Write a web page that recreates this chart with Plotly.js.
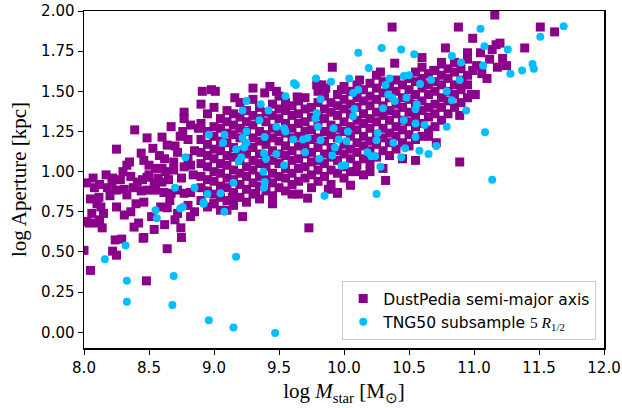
<!DOCTYPE html>
<html>
<head>
<meta charset="utf-8">
<script src="https://cdn.plot.ly/plotly-3.0.1.min.js"></script>
<style>html,body{margin:0;padding:0;background:#fff}#chart{width:622px;height:408px}</style>
</head>
<body>
<div id="chart"></div>
<script>
// ---- DustPedia semi-major axis: low-mass scattered points [logM, logA] ----
var dpLow = [
[8.00,0.51],[8.05,0.385],[8.04,0.68],[8.02,0.69],[8.06,0.74],[8.10,0.68],[8.14,0.65],[8.10,0.80],[8.115,0.84],[8.08,0.90],
[8.02,0.93],[8.13,0.78],[8.15,0.74],[8.18,0.90],[8.20,0.85],[8.215,0.935],[8.17,0.98],[8.25,0.885],[8.25,0.78],[8.22,0.505],
[8.25,0.48],[8.29,0.58],[8.31,0.73],[8.31,0.89],[8.33,0.855],[8.25,1.14],[8.33,1.04],[8.35,1.06],[8.39,1.26],[8.41,0.935],
[8.385,0.655],[8.42,0.68],[8.44,1.115],[8.45,0.95],[8.46,1.07],[8.46,0.81],[8.46,0.59],[8.48,0.32],[8.485,1.21],[8.485,0.965],
[8.485,0.885],[8.50,1.04],[8.53,1.145],[8.54,0.93],[8.55,1.02],[8.55,0.885],[8.59,0.78],[8.60,1.215],[8.60,1.02],[8.60,0.935],
[8.615,0.87],[8.64,1.165],[8.64,0.775],[8.64,0.52],[8.65,0.95],[8.67,1.28],[8.67,0.865],[8.69,1.06],[8.69,1.01],[8.72,1.12],
[8.72,0.885],[8.72,0.74],[8.745,0.65],[8.75,0.59],[8.76,1.25],[8.77,1.37],[8.77,1.33],[8.77,1.03],[8.77,0.865],[8.82,1.29],
[8.82,1.04],[8.82,0.87],[8.82,0.72],[8.85,1.13],[8.85,0.75],[8.88,1.27],[8.90,1.42],[8.91,1.50],[8.98,1.51],[8.24,0.575],
[8.455,0.585],[8.12,0.70],[8.05,0.83],[8.28,0.95],[8.36,0.97],[8.40,0.80],[8.52,0.72],[8.58,1.10],[8.70,1.16],[8.80,1.20],
[8.84,0.98],[8.62,1.08],[8.74,1.22],[8.80,0.79],[8.44,0.88],[8.36,0.75],[8.54,0.64],[8.62,0.67],[8.70,0.70],[8.66,0.82],
[8.07,0.96],[8.12,0.92],[8.22,0.96],[8.30,1.00],[8.38,0.90],[8.50,0.98],[8.57,0.96],[8.63,1.00],[8.75,0.96],[8.80,1.08]
];
// ---- DustPedia: dense core, listed per mass column ----
var dpCoreX = [8.90,8.95,9.00,9.05,9.10,9.15,9.20,9.25,9.30,9.35,9.40,9.45,9.50,9.55,9.60,9.65,9.70,9.75,9.80,9.85,
               9.90,9.95,10.00,10.05,10.10,10.15,10.20,10.25,10.30,10.35,10.40,10.45,10.50,10.55,10.60,10.65,10.70,10.75,10.80,10.85,10.90,10.95];
var dpCoreY = [
[0.82,0.90,0.97,1.05,1.12,1.20,1.30],
[0.78,0.88,0.95,1.03,1.10,1.17,1.25,1.36],
[0.80,0.86,0.94,1.00,1.08,1.14,1.22,1.28,1.40],
[0.76,0.84,0.91,0.99,1.05,1.13,1.19,1.27,1.33],
[0.82,0.90,0.96,1.04,1.10,1.18,1.24,1.31,1.38],
[0.79,0.87,0.95,1.01,1.09,1.15,1.23,1.29,1.36],
[0.84,0.92,0.99,1.07,1.13,1.21,1.27,1.34,1.43],
[0.81,0.89,0.97,1.03,1.11,1.17,1.25,1.31,1.38],
[0.86,0.93,1.01,1.07,1.15,1.21,1.29,1.35,1.45],
[0.83,0.91,0.97,1.05,1.11,1.19,1.25,1.33,1.40],
[0.88,0.95,1.03,1.09,1.17,1.23,1.31,1.37],
[0.85,0.93,0.99,1.07,1.13,1.21,1.27,1.35,1.42],
[0.90,0.97,1.05,1.11,1.19,1.25,1.33,1.39,1.47],
[0.88,0.96,1.02,1.10,1.16,1.24,1.30,1.38,1.43],
[0.92,0.99,1.07,1.13,1.21,1.27,1.35,1.41],
[0.86,0.94,1.02,1.08,1.16,1.22,1.30,1.36,1.44],
[0.96,1.03,1.11,1.17,1.25,1.31,1.39,1.46],
[0.90,0.98,1.06,1.12,1.20,1.26,1.34,1.40],
[0.94,1.01,1.07,1.15,1.21,1.29,1.35,1.43,1.50],
[0.97,1.05,1.11,1.19,1.25,1.33,1.39,1.47],
[0.92,1.01,1.09,1.15,1.23,1.29,1.37,1.43],
[0.99,1.07,1.13,1.21,1.27,1.35,1.41,1.48],
[0.96,1.03,1.11,1.17,1.25,1.31,1.39,1.45,1.53],
[1.00,1.08,1.14,1.22,1.28,1.36,1.42,1.50],
[1.04,1.12,1.18,1.26,1.32,1.40,1.46,1.54],
[0.98,1.08,1.16,1.22,1.30,1.36,1.44,1.51],
[1.05,1.13,1.19,1.27,1.33,1.41,1.47,1.55],
[1.09,1.17,1.23,1.31,1.37,1.45,1.52],
[1.02,1.13,1.21,1.27,1.35,1.41,1.49,1.56],
[1.10,1.18,1.24,1.32,1.38,1.46,1.53],
[1.14,1.22,1.28,1.36,1.42,1.50,1.57],
[1.08,1.18,1.26,1.32,1.40,1.46,1.54],
[1.16,1.23,1.31,1.37,1.45,1.51,1.58],
[1.20,1.28,1.34,1.42,1.48,1.56,1.62],
[1.22,1.30,1.38,1.44,1.52,1.58,1.65],
[1.26,1.34,1.40,1.48,1.54,1.61],
[1.28,1.36,1.42,1.50,1.56,1.63],
[1.32,1.40,1.46,1.54,1.60,1.67],
[1.36,1.44,1.50,1.58,1.64],
[1.40,1.48,1.54,1.62,1.68],
[1.43,1.51,1.57,1.64],
[1.46,1.54,1.60,1.70]
];
// ---- DustPedia: outliers above / below the core and high-mass end ----
var dpEdge = [
[9.01,1.50],[9.16,1.46],[9.30,1.52],[9.39,1.49],[9.43,1.53],[9.48,1.50],[9.64,1.465],[9.79,1.54],[9.91,1.65],[9.83,1.54],
[9.86,1.52],[9.98,1.51],[10.12,1.57],[10.25,1.60],[10.28,1.62],[10.37,1.90],[10.39,1.675],[10.60,1.71],[10.69,1.63],[10.75,1.68],
[10.78,1.77],[10.88,1.90],[10.95,1.74],[10.99,1.83],[11.16,1.975],[11.51,1.90],[11.62,1.87],[11.39,1.77],[11.05,1.74],[11.14,1.76],
[11.17,1.79],[11.20,1.80],[11.22,1.705],[11.12,1.70],[11.18,1.65],[11.25,1.66],[11.02,1.66],[11.06,1.61],[11.10,1.58],[10.99,1.63],
[10.91,1.55],[10.98,1.48],[11.01,1.48],[10.89,1.35],[10.89,1.06],[10.55,1.07],[10.32,0.945],[10.05,0.915],[9.95,0.87],[9.88,0.89],
[9.72,0.835],[9.95,0.865],[9.00,0.80],[9.22,0.72],[9.32,0.865],[9.14,0.84],[10.09,1.00],[10.20,1.00],[10.71,1.18],[10.65,1.22],
[9.73,0.65],[9.60,0.86],[9.45,0.80],[9.10,0.76]
];
// ---- TNG50 subsample 5 R_1/2 [logM, logA] ----
var tng = [
[8.32,0.54],[8.16,0.455],[8.33,0.32],[8.69,0.35],[9.17,0.47],[8.33,0.19],[8.68,0.17],[8.96,0.075],[9.15,0.03],[9.47,-0.005],
[8.55,0.76],[8.56,0.71],[8.76,0.78],[8.74,0.77],[8.92,0.80],[9.08,0.75],
[8.96,1.23],[8.78,1.09],[8.70,0.90],[8.85,0.90],[8.95,0.86],[8.92,0.81],
[9.785,1.58],[9.615,1.55],[9.63,1.54],[9.90,1.56],[9.25,1.44],[9.55,1.47],[9.36,1.42],[9.82,1.45],[9.22,1.38],[9.42,1.38],
[9.79,1.365],[9.78,1.33],[9.35,1.32],[9.48,1.28],[9.54,1.27],[9.55,1.25],[9.80,1.28],[9.92,1.27],[9.08,1.23],[9.25,1.25],
[9.22,1.21],[9.39,1.215],[9.61,1.20],[9.685,1.20],[9.72,1.21],[9.82,1.195],[9.96,1.20],[9.07,1.18],[9.25,1.18],[9.23,1.15],
[9.17,1.14],[9.93,1.15],[9.385,1.115],[9.48,1.11],[9.70,1.12],[9.91,1.10],[9.21,1.09],[9.19,1.065],[9.40,1.08],[9.81,1.08],
[9.98,1.035],[9.54,1.04],[9.38,1.00],[9.15,0.93],[9.39,0.935],[9.385,0.90],[9.05,0.865],[9.85,0.85],
[10.11,1.74],[10.29,1.77],[10.44,1.76],[10.54,1.73],[10.83,1.72],[10.90,1.68],[10.19,1.645],[10.04,1.58],[10.35,1.58],[10.46,1.595],
[10.50,1.60],[10.67,1.57],[10.89,1.57],[10.585,1.545],[10.32,1.54],[10.11,1.51],[10.07,1.49],[10.34,1.48],[10.37,1.46],[10.39,1.44],
[10.48,1.46],[10.79,1.50],[10.83,1.445],[10.56,1.42],[10.55,1.39],[10.30,1.395],[10.08,1.39],[10.07,1.345],[10.94,1.38],[10.46,1.32],
[10.55,1.30],[10.62,1.29],[10.79,1.28],[10.03,1.25],[10.26,1.24],[10.02,1.19],[10.25,1.195],[10.55,1.215],[10.38,1.18],[10.47,1.145],
[10.71,1.16],[10.58,1.13],[10.65,1.11],[10.18,1.12],[10.21,1.095],[10.24,1.095],[10.44,1.09],[10.01,1.04],[10.28,1.03],[10.25,0.86],
[11.05,1.89],[11.69,1.905],[11.51,1.84],[11.08,1.78],[11.26,1.76],[11.07,1.66],[11.28,1.61],[11.37,1.63],[11.45,1.67],[11.46,1.64],
[11.085,1.245],[11.14,0.95]
];
var xTicks = [8.0,8.5,9.0,9.5,10.0,10.5,11.0,11.5,12.0];
var yTicks = [0.00,0.25,0.50,0.75,1.00,1.25,1.50,1.75,2.00];

var dpX = [], dpY = [];
dpLow.forEach(function(p){ dpX.push(p[0]); dpY.push(p[1]); });
dpCoreX.forEach(function(x,i){ dpCoreY[i].forEach(function(y){ dpX.push(x); dpY.push(y); }); });
dpEdge.forEach(function(p){ dpX.push(p[0]); dpY.push(p[1]); });

var traces = [
  {type:'scatter', mode:'markers', name:'DustPedia semi-major axis', legendgroup:'a',
   x:dpX, y:dpY, marker:{symbol:'square', size:9, color:'#8b008b'}},
  {type:'scatter', mode:'markers', name:"TNG50 subsample <span style='font-family:Liberation Serif'>5 <i>R</i><sub>1/2</sub></span>", legendgroup:'b',
   x:tng.map(function(p){return p[0];}), y:tng.map(function(p){return p[1];}),
   marker:{symbol:'circle', size:8, color:'#00bfff'}}
];

var axisCommon = {
  showgrid:false, zeroline:false, showline:true, mirror:true, linecolor:'#000', linewidth:1.5,
  ticks:'outside', ticklen:5, tickwidth:1, tickcolor:'#000',
  tickfont:{family:'DejaVu Sans', size:15, color:'#000'}
};
var layout = {
  width:622, height:408,
  margin:{l:84, r:18, t:11, b:60},
  paper_bgcolor:'#fff', plot_bgcolor:'#fff',
  showlegend:true,
  legend:{x:0.985, xanchor:'right', y:0.024, yanchor:'bottom', bgcolor:'rgba(255,255,255,0.8)',
          bordercolor:'#cccccc', borderwidth:1, font:{family:'DejaVu Sans', size:15.5, color:'#000'},
          tracegroupgap:3, traceorder:'normal'},
  xaxis: Object.assign({}, axisCommon, {range:[8,12], tickvals:xTicks, ticktext:xTicks.map(function(v){return v.toFixed(1);}),
          title:{text:'log <i>M</i><sub>star</sub> [M<sub>⊙</sub>]', font:{family:'Liberation Serif', size:21, color:'#000'}, standoff:8}}),
  yaxis: Object.assign({}, axisCommon, {range:[-0.098,2.0], tickvals:yTicks, ticktext:yTicks.map(function(v){return v.toFixed(2);}),
          title:{text:'log Aperture [kpc]', font:{family:'Liberation Serif', size:21, color:'#000'}, standoff:8}})
};
Plotly.newPlot('chart', traces, layout, {displayModeBar:false, staticPlot:true});
</script>
</body>
</html>
